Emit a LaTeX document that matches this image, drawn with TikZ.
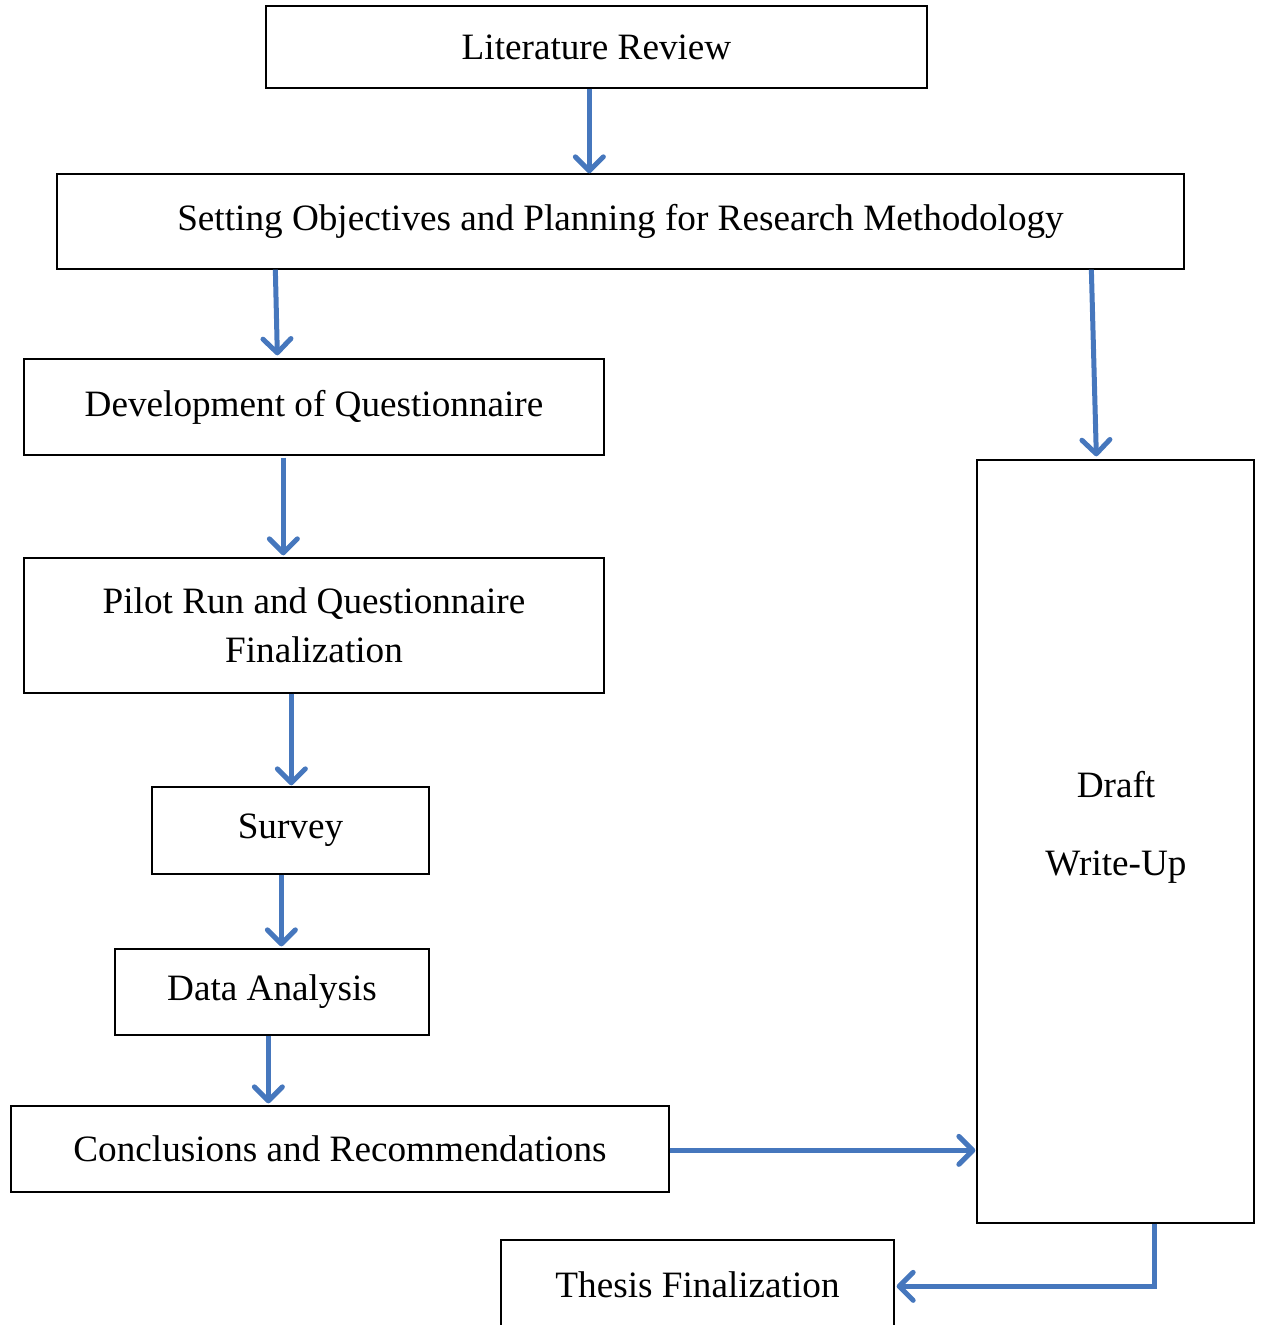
\documentclass[tikz,border=0pt]{standalone}
\usepackage{fontspec}
\setmainfont{Liberation Serif}
\usetikzlibrary{arrows.meta,calc}
\definecolor{flowblue}{HTML}{4677BD}

\begin{document}
\begin{tikzpicture}[x=0.5pt,y=-0.5pt,
  box/.style={draw=black, line width=0.65pt, rectangle, inner sep=0pt,
    align=center, font=\fontsize{18.6}{24.5}\selectfont},
  lbl/.style={inner sep=0pt, align=center, font=\fontsize{18.6}{39}\selectfont},
  flow/.style={draw=flowblue, line width=2.5pt,
    -{Straight Barb[length=7pt,width=14pt,round]}}]

  % page frame; the last box runs past the lower edge
  \clip (0,0) rectangle (1262,1325);

  % boxes
  \node[box, minimum width=330.5pt, minimum height=41pt] (lr) at (596.5,47) {Literature Review};
  \node[box, minimum width=563.5pt, minimum height=47.5pt] (so) at (620.5,221.5)
    {Setting Objectives and Planning for Research Methodology};
  \node[box, minimum width=290pt, minimum height=48pt] (dev) at (314,407) {Development of Questionnaire};
  \node[box, minimum width=290pt, minimum height=67.5pt] (pilot) at (314,625.5)
    {Pilot Run and Questionnaire\\Finalization};
  \node[box, minimum width=138.5pt, minimum height=43.5pt] (survey) at (290.5,830.5) {Survey};
  \node[box, minimum width=157pt, minimum height=43pt] (data) at (272,992) {Data Analysis};
  \node[box, minimum width=329pt, minimum height=43pt] (concl) at (340,1149)
    {Conclusions and Recommendations};
  \node[box, minimum width=138.5pt, minimum height=381.5pt] (draft) at (1115.5,841.5) {};
  \node[lbl] (draftlbl) at (1116,827) {Draft\\Write-Up};
  \node[box, minimum width=196.5pt, minimum height=45pt] (thesis) at (697.5,1285) {Thesis Finalization};

  % connectors
  \draw[flow] ($(lr.south west)+(324,0)$) -- ($(so.north west)+(533,0)$);
  \draw[flow] ($(so.south west)+(219,0)$) -- ($(dev.north west)+(254,-3)$);
  \draw[flow] ($(so.south west)+(1035,0)$) -- ($(draft.north west)+(120,-3)$);
  \draw[flow] ($(dev.south west)+(260,2)$) -- ($(pilot.north west)+(260,-2)$);
  \draw[flow] ($(pilot.south west)+(268,0)$) -- ($(survey.north west)+(140,-1)$);
  \draw[flow] ($(survey.south west)+(130,0)$) -- ($(data.north west)+(167,-2)$);
  \draw[flow] ($(data.south west)+(154,0)$) -- ($(concl.north west)+(258,-2)$);
  \draw[flow] ($(concl.north east)+(0,45)$) -- ($(draft.north west)+(-1,691)$);
  \draw[flow] ($(draft.south west)+(178,0)$) |- ($(thesis.north east)+(2,47)$);
\end{tikzpicture}
\end{document}
